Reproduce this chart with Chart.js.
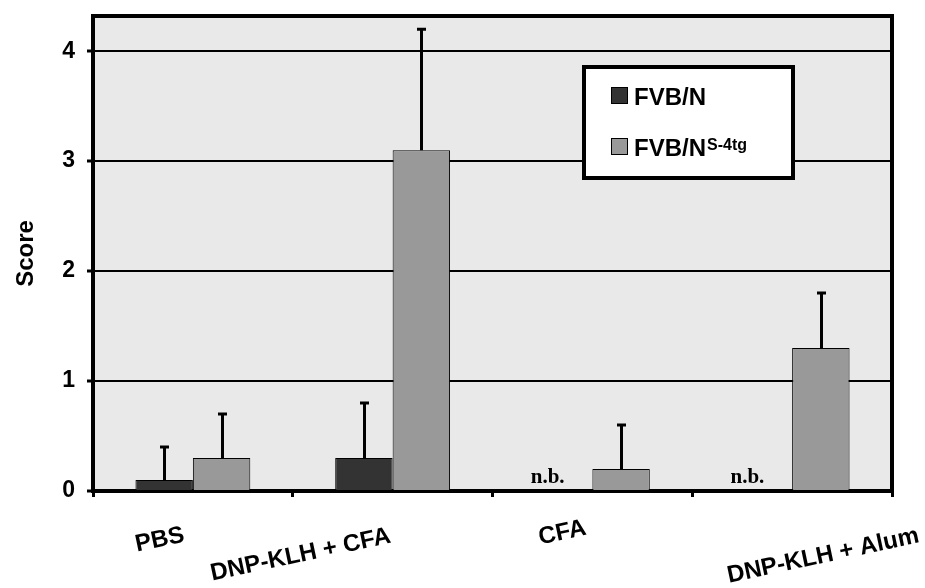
<!DOCTYPE html>
<html>
<head>
<meta charset="utf-8">
<script src="https://cdn.jsdelivr.net/npm/chart.js@4"></script>
<style>
  html, body { margin: 0; padding: 0; background: #ffffff; }
  #wrap { width: 925px; height: 588px; }
</style>
</head>
<body>
<div id="wrap"><canvas id="c" width="925" height="588"></canvas></div>
<script>
// ---- data ----
const categories = ["PBS", "DNP-KLH + CFA", "CFA", "DNP-KLH + Alum"];
const fvbValues = [0.1, 0.3, null, null];
const fvbErrors = [0.3, 0.5, null, null];
const tgValues = [0.3, 3.1, 0.2, 1.3];
const tgErrors = [0.4, 1.1, 0.4, 0.5];
const notBredLabels = [null, null, "n.b.", "n.b."];
const yTicks = [0, 1, 2, 3, 4];

// ---- style / layout constants ----
const DARK = "#333333";
const LIGHT = "#999999";
const PLOT_BG = "#e9e9e9";
const SANS = "'Liberation Sans', Arial, Helvetica, sans-serif";
const SERIF = "'Liberation Serif', 'Times New Roman', serif";
// per-label placement of rotated category labels, relative to category centre
const labelPlacement = [
  { dx: -33, y: 540 },
  { dx: -92, y: 555 },
  { dx: -30, y: 533 },
  { dx: 31, y: 556 }
];

const plotDecor = {
  id: "plotDecor",
  beforeDraw(chart) {
    const { ctx, chartArea: a } = chart;
    ctx.save();
    ctx.fillStyle = PLOT_BG;
    ctx.fillRect(a.left, a.top, a.right - a.left, a.bottom - a.top);
    ctx.restore();
  },
  afterDatasetsDraw(chart) {
    const { ctx, scales } = chart;
    const ys = scales.y;
    const errs = [fvbErrors, tgErrors];
    ctx.save();
    ctx.strokeStyle = "#000";
    ctx.lineWidth = 3;
    chart.data.datasets.forEach((ds, di) => {
      const meta = chart.getDatasetMeta(di);
      meta.data.forEach((bar, i) => {
        const v = ds.data[i];
        const e = errs[di][i];
        if (v == null || e == null) return;
        const yTop = ys.getPixelForValue(v + e);
        const yBar = ys.getPixelForValue(v);
        const x = Math.round(bar.x) + 0.5;
        ctx.beginPath();
        ctx.moveTo(x, yBar);
        ctx.lineTo(x, yTop);
        ctx.moveTo(x - 4.5, yTop);
        ctx.lineTo(x + 4.5, yTop);
        ctx.stroke();
      });
    });
    // n.b. labels at the missing FVB/N bars
    const meta0 = chart.getDatasetMeta(0);
    ctx.fillStyle = "#000";
    ctx.font = "bold 21px " + SERIF;
    ctx.textAlign = "center";
    ctx.textBaseline = "alphabetic";
    notBredLabels.forEach((t, i) => {
      if (!t) return;
      const bx = meta0.data[i].x;
      ctx.fillText(t, bx - 16, ys.getPixelForValue(0) - 8);
    });
    ctx.restore();
  },
  afterDraw(chart) {
    const { ctx, chartArea: a, scales } = chart;
    ctx.save();
    // top & right frame
    ctx.strokeStyle = "#000";
    ctx.lineWidth = 4;
    ctx.beginPath();
    ctx.moveTo(a.left - 2, a.top);
    ctx.lineTo(a.right, a.top);
    ctx.lineTo(a.right, a.bottom + 2);
    ctx.stroke();
    // rotated category labels
    ctx.fillStyle = "#000";
    ctx.font = "bold 24px " + SANS;
    ctx.textAlign = "center";
    ctx.textBaseline = "middle";
    categories.forEach((c, i) => {
      const p = labelPlacement[i];
      const x = scales.x.getPixelForValue(i) + p.dx;
      ctx.save();
      ctx.translate(x, p.y);
      ctx.rotate(-12 * Math.PI / 180);
      ctx.fillText(c, 0, 0);
      ctx.restore();
    });
    // legend
    const lx = 584, ly = 67, lw = 209, lh = 111;
    ctx.fillStyle = "#fff";
    ctx.fillRect(lx, ly, lw, lh);
    ctx.lineWidth = 4;
    ctx.strokeStyle = "#000";
    ctx.strokeRect(lx, ly, lw, lh);
    const entries = [
      { color: DARK, name: chart.data.datasets[0].label, sup: "", y: 87 },
      { color: LIGHT, name: "FVB/N", sup: "S-4tg", y: 138 }
    ];
    entries.forEach(en => {
      ctx.fillStyle = en.color;
      ctx.fillRect(611, en.y, 16, 16);
      ctx.lineWidth = 1;
      ctx.strokeStyle = "#000";
      ctx.strokeRect(611.5, en.y + 0.5, 16, 16);
      ctx.fillStyle = "#000";
      ctx.font = "bold 24px " + SANS;
      ctx.textAlign = "left";
      ctx.textBaseline = "alphabetic";
      ctx.fillText(en.name, 634, en.y + 18);
      if (en.sup) {
        const w = ctx.measureText(en.name).width;
        ctx.font = "bold 16px " + SANS;
        ctx.fillText(en.sup, 634 + w + 1, en.y + 12);
      }
    });
    ctx.restore();
  }
};

new Chart(document.getElementById("c"), {
  type: "bar",
  data: {
    labels: categories,
    datasets: [
      { label: "FVB/N", data: fvbValues, backgroundColor: DARK, borderColor: "#000", borderWidth: 1 },
      { label: "FVB/N S-4tg", data: tgValues, backgroundColor: LIGHT, borderColor: "#000", borderWidth: 1 }
    ]
  },
  options: {
    responsive: false,
    animation: false,
    devicePixelRatio: 1,
    layout: { padding: { top: 16, right: 33, bottom: 0, left: 0 } },
    plugins: { legend: { display: false }, tooltip: { enabled: false }, title: { display: false } },
    datasets: { bar: { categoryPercentage: 0.575, barPercentage: 1.0, borderSkipped: "bottom" } },
    scales: {
      x: {
        grid: { offset: true, drawOnChartArea: false, drawTicks: true, tickLength: 6, tickWidth: 3, color: "#000" },
        border: { display: true, color: "#000", width: 4 },
        ticks: { display: false },
        afterFit(s) { s.height = 97; s.paddingLeft = 0; s.paddingRight = 0; }
      },
      y: {
        min: 0,
        max: 4.32,
        afterBuildTicks(s) { s.ticks = yTicks.map(v => ({ value: v })); },
        ticks: {
          stepSize: 1,
          includeBounds: false,
          color: "#000",
          padding: 12,
          font: { family: SANS, size: 23, weight: "bold" }
        },
        grid: { color: "#000", lineWidth: 2, tickLength: 6, tickWidth: 3, drawTicks: true },
        border: { display: true, color: "#000", width: 4 },
        title: {
          display: true,
          text: "Score",
          color: "#000",
          font: { family: SANS, size: 24, weight: "bold" },
          padding: { top: 12, bottom: 0 }
        },
        afterFit(s) { s.width = 93; s.paddingTop = 0; s.paddingBottom = 0; }
      }
    }
  },
  plugins: [plotDecor]
});
</script>
</body>
</html>
